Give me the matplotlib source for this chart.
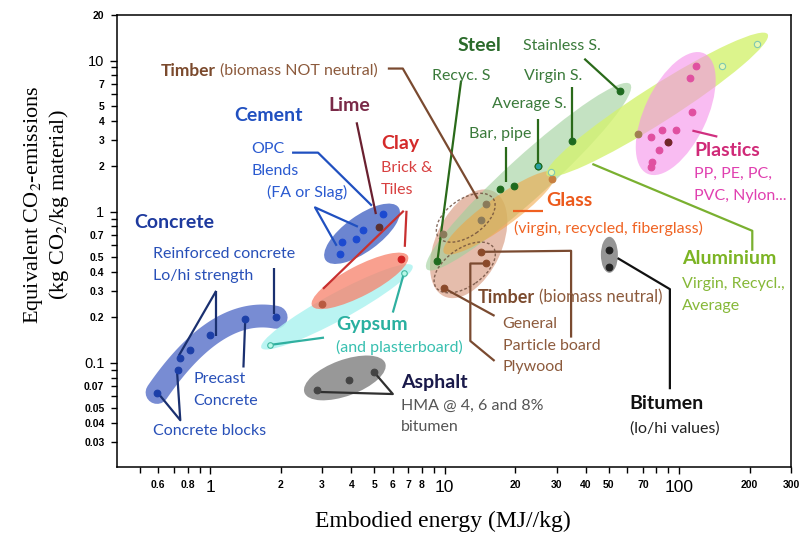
import numpy as np
import matplotlib
matplotlib.use("Agg")
import matplotlib.pyplot as plt
from matplotlib.patches import Ellipse
from matplotlib.transforms import ScaledTranslation
from matplotlib.ticker import FixedLocator, FixedFormatter

plt.rcParams["font.family"] = ["Lato", "DejaVu Sans"]
plt.rcParams["mathtext.fontset"] = "stix"

# embodied energy (MJ/kg) and CO2 (kg CO2/kg) per material group
concrete_x = [0.593, 0.726, 0.745, 0.822, 1.0, 1.41, 1.91]
concrete_y = [0.0636, 0.0895, 0.108, 0.121, 0.153, 0.195, 0.202]
cement_x = [3.57, 3.66, 4.18, 4.48, 5.48]
cement_y = [0.525, 0.635, 0.656, 0.758, 0.966]
lime_x = [5.27]
lime_y = [0.787]
clay_x = [2.99, 6.5]
clay_y = [0.244, 0.485]
gypsum_x = [1.80, 6.71]
gypsum_y = [0.1316, 0.393]
asphalt_x = [2.85, 3.92, 4.99]
asphalt_y = [0.066, 0.0768, 0.0872]
bitumen_x = [50.0, 50.4]
bitumen_y = [0.558, 0.434]
timber_nn_x = [14.94, 14.33, 9.83]
timber_nn_y = [1.125, 0.885, 0.715]
timber_n_x = [14.33, 14.94, 9.90]  # particle board, plywood, general
timber_n_y = [0.543, 0.456, 0.3125]
steel_x = [9.31, 17.19, 19.72, 24.95, 34.8, 56.0]  # recycled, bar/pipe x2, average, virgin, stainless
steel_y = [0.474, 1.413, 1.48, 2.007, 2.92, 6.25]
glass_x = [28.7]
glass_y = [1.654]
alu_x = [28.5, 152.0, 214.0]
alu_y = [1.82, 9.17, 12.9]
plastic_x = [118.5, 111.0, 113.3, 84.9, 97.4, 76.2, 89.8, 81.7, 76.9, 75.8, 66.9]
plastic_y = [9.27, 7.68, 4.55, 3.48, 3.48, 3.14, 2.88, 2.57, 2.12, 1.97, 3.27]

x_major = [1, 10, 100]
x_minor = [0.5, 0.6, 0.7, 0.8, 0.9, 2, 3, 4, 5, 6, 7, 8, 9,
           20, 30, 40, 50, 60, 70, 80, 90, 200, 300]
x_minor_labels = ["", "0.6", "", "0.8", "", "2", "3", "4", "5", "6", "7", "8", "",
                  "20", "30", "40", "50", "", "70", "", "", "200", "300"]
y_major = [0.1, 1, 10]
y_minor = [0.03, 0.04, 0.05, 0.06, 0.07, 0.08, 0.09, 0.2, 0.3, 0.4, 0.5, 0.6, 0.7,
           0.8, 0.9, 2, 3, 4, 5, 6, 7, 8, 9, 20]
y_minor_labels = ["0.03", "0.04", "0.05", "", "0.07", "", "", "0.2", "0.3", "0.4", "0.5", "",
                  "0.7", "", "", "2", "3", "4", "5", "", "7", "", "", "20"]

REG = 11.5
BOLD = 14


def blob(ax, x, y, w, h, angle, color, alpha):
    """Ellipse centred on a data point, sized in pixels (fig dpi = 100)."""
    tr = ax.figure.dpi_scale_trans + ScaledTranslation(x, y, ax.transData)
    e = Ellipse((0, 0), w / 100, h / 100, angle=angle, transform=tr,
                facecolor=color, alpha=alpha, edgecolor="none", zorder=1)
    ax.add_patch(e)
    return e


def ring(ax, x, y, w, h, angle, color):
    tr = ax.figure.dpi_scale_trans + ScaledTranslation(x, y, ax.transData)
    e = Ellipse((0, 0), w / 100, h / 100, angle=angle, transform=tr,
                facecolor="none", edgecolor=color, lw=1.0, ls=(0, (2, 1.5)),
                alpha=0.8, zorder=2)
    ax.add_patch(e)


def leader(ax, xs, ys, color, lw=1.6):
    ax.plot(xs, ys, color=color, lw=lw, zorder=2.5, solid_capstyle="butt")


def dots(ax, xs, ys, color, size=4.8, edge=None):
    ax.plot(xs, ys, "o", ms=size, color=color, mec=edge or color, mew=0.8,
            zorder=3, ls="none")


def label(ax, x, y, s, color, size=REG, bold=False):
    return ax.text(x, y, s, color=color, fontsize=size, va="center", ha="left",
                   fontweight="bold" if bold else "normal", zorder=4)


def label_pair(ax, x, y, head, tail, color_head, color_tail, size=13, tail_size=12):
    t = label(ax, x, y, head, color_head, size=size, bold=True)
    ax.annotate(tail, xy=(1, 0.5), xycoords=t, xytext=(3, 0),
                textcoords="offset points", va="center", ha="left",
                color=color_tail, fontsize=tail_size, zorder=4)


fig = plt.figure(figsize=(7.99, 5.36), dpi=100)
ax = fig.add_axes([0.1464, 0.1287, 0.8436, 0.8433])
ax.set_xscale("log")
ax.set_yscale("log")
ax.set_xlim(0.4, 300)
ax.set_ylim(0.0205, 20)

# --- shaded groups ---
lx, ly = np.log10(concrete_x), np.log10(concrete_y)
coef = np.polyfit(lx, ly, 2)
xs = np.linspace(lx.min(), lx.max(), 60)
ax.plot(10 ** xs, 10 ** np.polyval(coef, xs), color="#6178cc", lw=16.5,
        alpha=0.85, solid_capstyle="round", zorder=1)

blob(ax, 4.44, 0.715, 90, 36, 36, "#5270c8", 0.85)
blob(ax, 3.47, 0.235, 172, 27, 28.5, "#aef3f0", 0.85)
blob(ax, 4.35, 0.349, 108, 30, 27.5, "#f8806a", 0.75)
blob(ax, 3.75, 0.0796, 86, 36, 20, "#7f7f7f", 0.8)
blob(ax, 50.4, 0.519, 17, 36, 0, "#8a8a8a", 0.9)
blob(ax, 12.65, 0.614, 116, 66, 65, "#d89a80", 0.65)
blob(ax, 22.78, 1.705, 275, 42, 42.3, "#9ed09a", 0.6)
blob(ax, 17.14, 0.985, 137, 30, 35.8, "#f2a23c", 0.55)
blob(ax, 80.6, 5.11, 262, 36, 32.5, "#d4f270", 0.8)
blob(ax, 96.7, 4.46, 133, 62, 64.6, "#f590ea", 0.6)
ring(ax, 12.29, 0.9125, 67, 37, 35, "#6a4a3a")
ring(ax, 12.17, 0.428, 70, 38, 35, "#6a4a3a")

# --- leader lines ---
c_conc = "#1a3070"
leader(ax, [1.06, 0.733], [0.2998, 0.1112], c_conc)
leader(ax, [1.06, 1.06], [0.2998, 0.151], c_conc)
leader(ax, [1.872, 1.872], [0.4238, 0.2101], c_conc)
leader(ax, [1.41, 1.385], [0.1948, 0.0933], c_conc)
leader(ax, [0.593, 0.745, 0.721], [0.0643, 0.0418, 0.0895], c_conc)
c_cem = "#2050c0"
leader(ax, [2.233, 2.881, 4.891], [2.459, 2.459, 1.096], c_cem)
leader(ax, [4.264, 2.798, 3.46], [0.796, 1.068, 0.5955], c_cem)
leader(ax, [4.21, 5.087], [3.903, 0.965], "#6a2030")
leader(ax, [3.026, 6.69], [0.309, 1.015], "#c83030")
leader(ax, [6.871, 6.757], [1.015, 0.586], "#c83030")
leader(ax, [1.80, 3.056], [0.1316, 0.1471], "#30b0a0")
leader(ax, [6.007, 6.69], [0.2154, 0.3885], "#30b0a0")
leader(ax, [2.881, 6.007, 4.987], [0.0643, 0.0623, 0.0872], "#303030")
c_st = "#2a6a1a"
leader(ax, [11.75, 9.31], [7.37, 0.4737], c_st)
leader(ax, [39.4, 55.95], [10.28, 6.26], c_st)
leader(ax, [34.8, 34.8], [6.655, 2.92], c_st)
leader(ax, [24.95, 24.95], [4.111, 2.016], c_st)
leader(ax, [18.3, 18.3], [2.666, 1.563], c_st)
leader(ax, [19.53, 26.2], [1.015, 1.015], "#f06020")
leader(ax, [113.9, 145.5], [3.44, 3.139], "#d03080")
leader(ax, [42.64, 205.1, 205.1], [2.07, 0.748, 0.5516], "#7ab030")
c_tim = "#7a4a30"
leader(ax, [5.72, 6.626, 13.82], [8.85, 8.85, 1.219], c_tim)
leader(ax, [9.93, 16.32], [0.3124, 0.2048], c_tim)
leader(ax, [14.33, 34.6, 34.6], [0.543, 0.5516, 0.1471], c_tim)
leader(ax, [14.94, 12.86, 12.86, 16.32], [0.4546, 0.4546, 0.1398, 0.1031], c_tim)
leader(ax, [54.64, 91.3, 91.3], [0.4936, 0.3076, 0.067], "#111111")

# --- data points ---
dots(ax, concrete_x, concrete_y, "#1c3fa8")
dots(ax, cement_x, cement_y, "#1c4ad0")
dots(ax, lime_x, lime_y, "#5a3030")
dots(ax, clay_x[:1], clay_y[:1], "#b85a40")
dots(ax, clay_x[1:], clay_y[1:], "#d02020")
dots(ax, gypsum_x, gypsum_y, "#b8f8e8", size=4, edge="#40b8a0")
dots(ax, asphalt_x, asphalt_y, "#444444")
dots(ax, bitumen_x, bitumen_y, "#222222")
dots(ax, timber_nn_x, timber_nn_y, "#8a7a5a")
dots(ax, timber_n_x, timber_n_y, "#8a4a2a")
dots(ax, steel_x, steel_y, "#1e6a1e")
dots(ax, steel_x[3:4], steel_y[3:4], "#28a0a0", edge="#1e6a1e")
dots(ax, glass_x, glass_y, "#c88040")
dots(ax, alu_x, alu_y, "#e8f8b0", size=4.5, edge="#80c8b0")
dots(ax, plastic_x[:-1], plastic_y[:-1], "#e050a0")
dots(ax, plastic_x[6:7], plastic_y[6:7], "#702828")
dots(ax, plastic_x[-1:], plastic_y[-1:], "#a08050")

# --- labels ---
label_pair(ax, 0.6126, 8.58, "Timber", "(biomass NOT neutral)", "#7b4a2d", "#8c5a3c",
           size=12.5, tail_size=11.5)
label(ax, 1.265, 4.324, "Cement", "#2050c0", BOLD, True)
label(ax, 3.178, 5.035, "Lime", "#7a2a48", BOLD, True)
label(ax, 5.343, 2.82, "Clay", "#d42a2a", BOLD, True)
label(ax, 5.343, 1.956, "Brick &", "#d84040")
label(ax, 5.343, 1.399, "Tiles", "#d84040")
label(ax, 1.495, 2.614, "OPC", "#2a5ad0")
label(ax, 1.495, 1.868, "Blends", "#2a5ad0")
label(ax, 1.748, 1.336, "(FA or Slag)", "#2a5ad0")
label(ax, 0.475, 0.8457, "Concrete", "#1e3a9e", BOLD, True)
label(ax, 0.572, 0.5269, "Reinforced concrete", "#2850b8")
label(ax, 0.572, 0.3769, "Lo/hi strength", "#2850b8")
label(ax, 0.847, 0.0784, "Precast", "#2850b8")
label(ax, 0.847, 0.056, "Concrete", "#2850b8")
label(ax, 0.572, 0.0354, "Concrete blocks", "#2850b8")
label(ax, 11.36, 12.57, "Steel", "#2a6a2a", BOLD, True)
label(ax, 8.806, 7.96, "Recyc. S", "#3a7a3a")
label(ax, 21.47, 12.57, "Stainless S.", "#3a7a3a")
label(ax, 21.69, 7.96, "Virgin S.", "#3a7a3a")
label(ax, 15.85, 5.19, "Average S.", "#3a7a3a")
label(ax, 12.65, 3.285, "Bar, pipe", "#3a7a3a")
label(ax, 27.16, 1.183, "Glass", "#ec5a1c", BOLD, True)
label(ax, 19.66, 0.772, "(virgin, recycled, fiberglass)", "#f06424")
label(ax, 115.8, 2.535, "Plastics", "#d02a78", BOLD, True)
label(ax, 115.8, 1.785, "PP, PE, PC,", "#e040b0")
label(ax, 115.8, 1.276, "PVC, Nylon...", "#e040b0")
label(ax, 103, 0.4884, "Aluminium", "#7cb424", BOLD, True)
label(ax, 103, 0.3336, "Virgin, Recycl.,", "#86b838")
label(ax, 103, 0.2384, "Average", "#86b838")
label_pair(ax, 13.82, 0.2694, "Timber", "(biomass neutral)", "#7b4a2d", "#8c5a3c")
label(ax, 17.65, 0.1813, "General", "#8c5a3c")
label(ax, 17.65, 0.1296, "Particle board", "#8c5a3c")
label(ax, 17.65, 0.0941, "Plywood", "#8c5a3c")
label(ax, 3.438, 0.1785, "Gypsum", "#2ab0a0", BOLD, True)
label(ax, 3.438, 0.1257, "(and plasterboard)", "#38c0b0")
label(ax, 6.497, 0.0748, "Asphalt", "#1a1a4a", BOLD, True)
label(ax, 6.497, 0.0519, "HMA @ 4, 6 and 8%", "#555555")
label(ax, 6.497, 0.0377, "bitumen", "#555555")
label(ax, 61.26, 0.0543, "Bitumen", "#111111", BOLD, True)
label(ax, 61.86, 0.0371, "(lo/hi values)", "#222222")

# --- axes ---
ax.xaxis.set_major_locator(FixedLocator(x_major))
ax.xaxis.set_major_formatter(FixedFormatter(["1", "10", "100"]))
ax.xaxis.set_minor_locator(FixedLocator(x_minor))
ax.xaxis.set_minor_formatter(FixedFormatter(x_minor_labels))
ax.yaxis.set_major_locator(FixedLocator(y_major))
ax.yaxis.set_major_formatter(FixedFormatter(["0.1", "1", "10"]))
ax.yaxis.set_minor_locator(FixedLocator(y_minor))
ax.yaxis.set_minor_formatter(FixedFormatter(y_minor_labels))
ax.tick_params(which="major", direction="out", length=5, width=1, pad=4)
ax.tick_params(axis="x", which="major", labelsize=12.5)
ax.tick_params(axis="y", which="major", labelsize=10.5)
ax.tick_params(which="minor", direction="out", length=4, width=1, labelsize=7.5, pad=5)
for lab in ax.get_xticklabels() + ax.get_yticklabels():
    lab.set_family("Liberation Sans")
for lab in ax.get_xticklabels(minor=True) + ax.get_yticklabels(minor=True):
    lab.set_family("Liberation Sans")
    lab.set_fontweight("bold")
for sp in ax.spines.values():
    sp.set_linewidth(1.1)

ax.set_xlabel("Embodied energy (MJ//kg)", family="Liberation Serif", fontsize=17, va="center")
ax.xaxis.set_label_coords(0.4837, -0.1195)
ax.set_ylabel("Equivalent CO$_2$-emissions\n(kg CO$_2$/kg material)",
              family="Liberation Serif", fontsize=16, va="center", linespacing=1.1)
ax.yaxis.set_label_coords(-0.1046, 0.58)

fig.savefig("out.png", dpi=100)
